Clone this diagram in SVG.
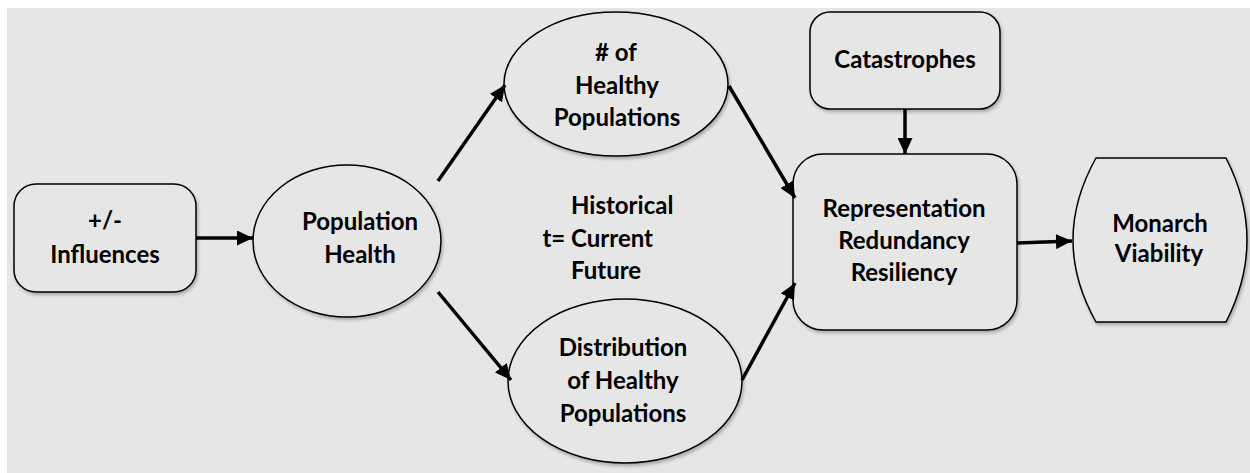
<svg xmlns="http://www.w3.org/2000/svg" width="1250" height="473" viewBox="0 0 1250 473">
<style>
.bg{fill:#e6e6e6}
.shape{fill:#e6e6e6;stroke:#000;stroke-width:1.5;filter:url(#sh)}
.lbl{font-family:Lato,"Liberation Sans",sans-serif;font-weight:bold;font-size:24px;fill:#000;text-anchor:middle}
.conn{stroke:#000;stroke-width:3.5;fill:none;marker-end:url(#arr)}
</style>
<defs>
<filter id="sh" x="-10%" y="-10%" width="125%" height="125%">
<feDropShadow dx="1.5" dy="2.5" stdDeviation="1.5" flood-color="#000" flood-opacity="0.25"/>
</filter>
<marker id="arr" markerUnits="userSpaceOnUse" markerWidth="17" markerHeight="15" refX="16" refY="7.5" orient="auto">
<path d="M0,0 L16,7.5 L0,15 Z" fill="#000"/>
</marker>
</defs>
<rect width="1250" height="473" fill="#fff"/>
<rect class="bg" x="7" y="8" width="1243" height="465"/>

<g id="influences">
<rect class="shape" x="14" y="184" width="182" height="108" rx="22"/>
<text class="lbl" x="105" y="229">+/-</text>
<text class="lbl" x="105" y="263">Influences</text>
</g>
<g id="population-health">
<ellipse class="shape" cx="347" cy="241" rx="94" ry="76"/>
<text class="lbl" x="360" y="230">Population</text>
<text class="lbl" x="360" y="263">Health</text>
</g>
<g id="num-healthy">
<ellipse class="shape" cx="616" cy="84" rx="112" ry="72"/>
<text class="lbl" x="616" y="61"># of</text>
<text class="lbl" x="617" y="94">Healthy</text>
<text class="lbl" x="617" y="126">Populations</text>
</g>
<g id="time-label">
<text class="lbl" x="571" y="214" style="text-anchor:start">Historical</text>
<text class="lbl" x="653" y="247" style="text-anchor:end">t= Current</text>
<text class="lbl" x="571" y="279" style="text-anchor:start">Future</text>
</g>
<g id="distribution">
<ellipse class="shape" cx="625" cy="381" rx="117" ry="82"/>
<text class="lbl" x="623" y="356">Distribution</text>
<text class="lbl" x="623" y="389">of Healthy</text>
<text class="lbl" x="623" y="422">Populations</text>
</g>
<g id="catastrophes">
<rect class="shape" x="810" y="12" width="190" height="97" rx="20"/>
<text class="lbl" x="905" y="68">Catastrophes</text>
</g>
<g id="rrr">
<rect class="shape" x="793" y="154" width="224" height="176" rx="30"/>
<text class="lbl" x="904" y="217">Representation</text>
<text class="lbl" x="904" y="249">Redundancy</text>
<text class="lbl" x="904" y="281">Resiliency</text>
</g>
<g id="monarch-viability">
<path class="shape" d="M1096,158 L1226,158 Q1268,240 1226,322 L1096,322 Q1050,240 1096,158 Z"/>
<text class="lbl" x="1160" y="232">Monarch</text>
<text class="lbl" x="1159" y="262">Viability</text>
</g>

<g id="connectors">
<line class="conn" x1="196" y1="238" x2="253" y2="238"/>
<line class="conn" x1="438" y1="181" x2="505" y2="85"/>
<line class="conn" x1="729" y1="86" x2="795" y2="198"/>
<line class="conn" x1="438" y1="292" x2="511" y2="380"/>
<line class="conn" x1="742" y1="380" x2="795" y2="283"/>
<line class="conn" x1="905" y1="109" x2="905" y2="154"/>
<line class="conn" x1="1017" y1="243" x2="1072" y2="241"/>
</g>
</svg>
